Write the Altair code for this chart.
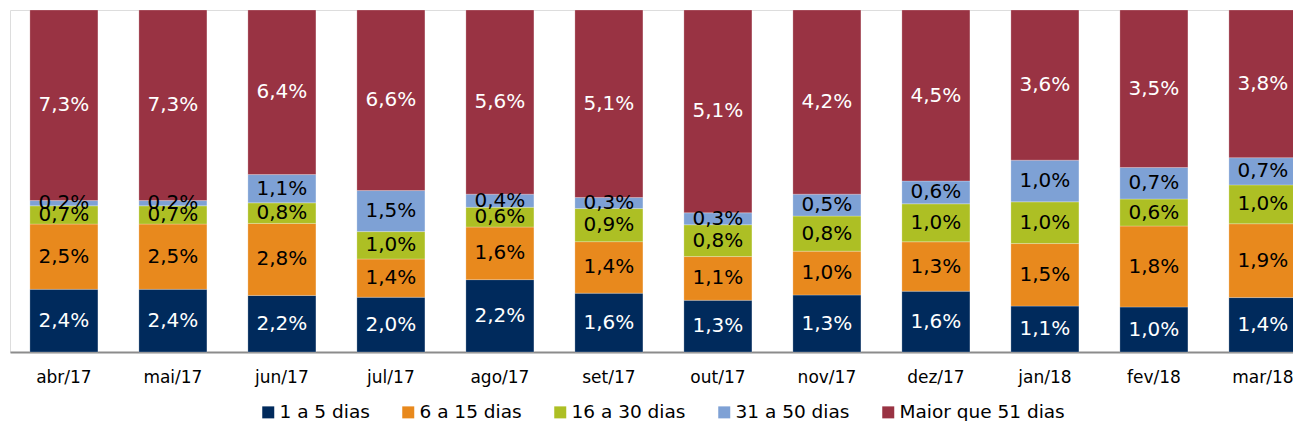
import altair as alt
import pandas as pd

months = ["abr/17", "mai/17", "jun/17", "jul/17", "ago/17", "set/17",
          "out/17", "nov/17", "dez/17", "jan/18", "fev/18", "mar/18"]
series = ["1 a 5 dias", "6 a 15 dias", "16 a 30 dias", "31 a 50 dias", "Maior que 51 dias"]
d1_5 = [2.4, 2.4, 2.2, 2.0, 2.2, 1.6, 1.3, 1.3, 1.6, 1.1, 1.0, 1.4]
d6_15 = [2.5, 2.5, 2.8, 1.4, 1.6, 1.4, 1.1, 1.0, 1.3, 1.5, 1.8, 1.9]
d16_30 = [0.7, 0.7, 0.8, 1.0, 0.6, 0.9, 0.8, 0.8, 1.0, 1.0, 0.6, 1.0]
d31_50 = [0.2, 0.2, 1.1, 1.5, 0.4, 0.3, 0.3, 0.5, 0.6, 1.0, 0.7, 0.7]
d51 = [7.3, 7.3, 6.4, 6.6, 5.6, 5.1, 5.1, 4.2, 4.5, 3.6, 3.5, 3.8]
colors = ["#002A5C", "#E8891D", "#ADBF24", "#7EA1D5", "#993343"]
label_colors = ["white", "black", "black", "black", "white"]

rows = []
for si, (name, vals) in enumerate(zip(series, [d1_5, d6_15, d16_30, d31_50, d51])):
    for m, v in zip(months, vals):
        rows.append({
            "month": m, "series": name, "order": si, "value": v,
            "label": f"{v:.1f}".replace(".", ",") + "%",
            "tcolor": label_colors[si],
        })
df = pd.DataFrame(rows)

FONT = "DejaVu Sans"

base = alt.Chart(df).transform_stack(
    stack="value", groupby=["month"], as_=["y0", "y1"],
    offset="normalize", sort=[alt.SortField("order", order="ascending")]
).transform_calculate(mid="(datum.y0 + datum.y1) / 2")

xenc = alt.X("month:N", sort=months, title=None,
             scale=alt.Scale(range=[0, 1291], paddingInner=0.376, paddingOuter=0.11, align=0.83),
             axis=alt.Axis(labelAngle=0, labelFont=FONT, labelFontSize=17,
                           labelColor="#000000", ticks=False, domainColor="#8C8C8C",
                           domainWidth=2, labelPadding=17, grid=False))

bars = base.mark_bar(stroke="#FFFFFF", strokeWidth=0.4, strokeOpacity=0.6).encode(
    x=xenc,
    y=alt.Y("y0:Q", scale=alt.Scale(domain=[0, 1], nice=False), axis=None),
    y2="y1:Q",
    color=alt.Color("series:N", sort=series,
                    scale=alt.Scale(domain=series, range=colors),
                    legend=alt.Legend(title=None, orient="none", direction="horizontal",
                                      columns=5, legendX=249, legendY=393,
                                      symbolType="square", symbolSize=144,
                                      symbolStrokeWidth=0, labelFontSize=18.5,
                                      labelFont=FONT, labelLimit=400,
                                      labelColor="#000000", labelOffset=2,
                                      columnPadding=29, padding=0)),
)

texts = base.mark_text(font=FONT, fontSize=20, baseline="middle", align="center").encode(
    x=alt.X("month:N", sort=months),
    y=alt.Y("mid:Q"),
    text="label:N",
    color=alt.Color("tcolor:N", scale=None),
)

chart = alt.layer(bars, texts).properties(
    width=1283, height=342,
    padding={"left": 2, "top": 2, "right": 0, "bottom": 69},
    autosize=alt.AutoSizeParams(type="none"),
).configure_view(stroke=None).configure(background="white")

chart.save("out.html", embed_options={"renderer": "svg", "actions": False})
